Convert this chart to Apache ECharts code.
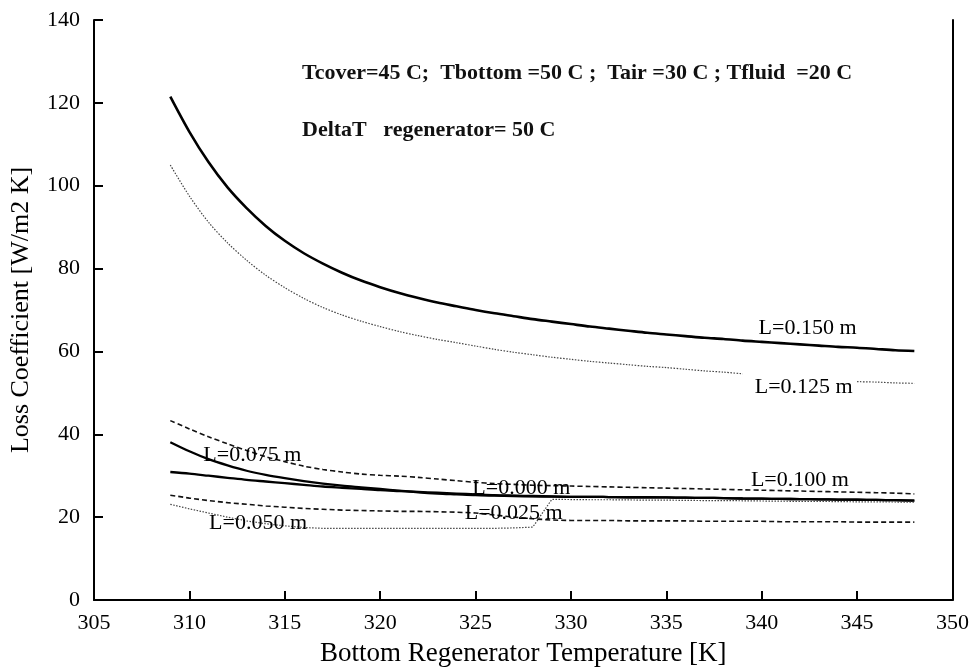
<!DOCTYPE html>
<html>
<head>
<meta charset="utf-8">
<script src="https://cdn.jsdelivr.net/npm/echarts@6/dist/echarts.min.js"></script>
<style>html,body{margin:0;padding:0;background:#fff;}#chart{width:972px;height:672px;}</style>
</head>
<body>
<div id="chart"></div>
<script>
// Bottom regenerator temperature [K]
var temps = [309,310,311,312,313,314,315,316,317,318,319,320,321,322,323,324,325,326,327,328,329,330,331,332,333,334,335,336,337,338,339,340,341,342,343,344,345,346,347,348];
// Loss coefficient [W/m2 K] for each L
var L150 = [121.5,113,105.7,99.6,94.6,90.3,86.7,83.7,81.2,79,77.1,75.5,74.1,72.9,71.8,70.9,70,69.2,68.5,67.8,67.2,66.6,66,65.5,65,64.5,64.1,63.7,63.3,63,62.6,62.3,62,61.7,61.4,61.1,60.9,60.6,60.3,60.1];
var L125 = [105,97.5,91.2,86.2,82,78.4,75.4,72.8,70.6,68.8,67.3,66,64.8,63.8,62.9,62.1,61.3,60.5,59.8,59.2,58.6,58.1,57.6,57.2,56.8,56.4,56.1,55.7,55.3,55,54.6,null,null,null,null,null,52.7,52.6,52.4,52.3];
var L100 = [43.3,41.3,39.4,37.7,36.1,34.6,33.4,32.3,31.5,30.9,30.4,30.1,29.9,29.6,29.2,28.8,28.4,28.1,27.9,27.7,27.6,27.5,27.4,27.3,27.2,27.1,27,26.9,26.8,26.7,26.6,26.5,26.4,26.3,26.2,26.1,26,25.9,25.8,25.6];
var L075 = [38.1,35.9,34,32.5,31.2,30.2,29.4,28.7,28.1,27.6,27.2,26.8,26.4,26,25.7,25.5,25.3,25.2,25.1,25,24.95,24.9,24.9,24.85,24.8,24.8,24.75,24.7,24.65,24.6,24.5,24.45,24.4,24.35,24.3,24.25,24.2,24.15,24.1,24];
var L000 = [30.9,30.5,30,29.5,29,28.6,28.2,27.8,27.4,27.1,26.8,26.5,26.3,26.1,25.9,25.7,25.5,25.3,25.2,25.1,25,24.9,24.9,24.85,24.8,24.8,24.75,24.7,24.65,24.6,24.5,24.45,24.4,24.35,24.3,24.25,24.2,24.15,24.1,24];
var L025 = [25.3,24.6,24,23.5,23.1,22.7,22.4,22.1,21.9,21.7,21.6,21.5,21.4,21.4,21.3,21.2,21,20.5,20,19.6,19.3,19.2,19.2,19.2,19.1,19.1,19.1,19.1,19,19,19,19,18.9,18.9,18.9,18.9,18.8,18.8,18.8,18.8];
var L050 = [23.1,22,21,20,19.1,18.4,17.9,17.5,17.3,17.3,17.3,17.3,17.3,17.3,17.3,17.3,17.3,17.3,17.4,17.6,24.3,24.25,24.2,24.2,24.15,24.1,24.1,24.05,24,24,23.95,23.9,23.85,23.8,23.8,23.75,23.7,23.7,23.65,23.6];
var xTicks = [305,310,315,320,325,330,335,340,345,350];
var yTicks = [0,20,40,60,80,100,120,140];
var seriesNames = ['L=0.150 m','L=0.125 m','L=0.100 m','L=0.075 m','L=0.000 m','L=0.025 m','L=0.050 m'];
// label anchor positions (data coordinates)
var labelX = [342.4,342.2,342.0,313.3,327.4,327.0,313.6];
var labelY = [65.7,51.3,29.0,35.0,27.1,20.9,18.5];
var noteLine1 = 'Tcover=45 C;  Tbottom =50 C ;  Tair =30 C ; Tfluid  =20 C';
var noteLine2 = 'DeltaT   regenerator= 50 C';

function pairs(vals){ return temps.map(function(t,i){ return [t, vals[i]]; }); }

var FONT = '"Liberation Serif", "Times New Roman", serif';
var styles = [
  {type:'solid', width:2.6, color:'#000'},
  {type:[1.5,1.5], width:1.2, color:'#444'},
  {type:[5,3], width:1.6, color:'#111'},
  {type:'solid', width:2.3, color:'#000'},
  {type:'solid', width:2.3, color:'#000'},
  {type:[5,3], width:1.6, color:'#111'},
  {type:[1.5,1.5], width:1.2, color:'#444'}
];
var smoothness = [0.3,0.3,0.3,0.3,0.3,0,0];
var dataSets = [L150,L125,L100,L075,L000,L025,L050];

var series = dataSets.map(function(d,i){
  return {
    name: seriesNames[i], type:'line', data: pairs(d), showSymbol:false, symbol:'none',
    connectNulls:false, smooth:smoothness[i], silent:true,
    lineStyle: styles[i]
  };
});

var chart = echarts.init(document.getElementById('chart'), null, {renderer:'canvas'});
var baseGraphic = [
  {type:'text', left:302, top:62, style:{text:noteLine1, font:'bold 22px ' + FONT, fill:'#111'}},
  {type:'text', left:302, top:119, style:{text:noteLine2, font:'bold 22px ' + FONT, fill:'#111'}}
];
chart.setOption({
  animation:false,
  backgroundColor:'#fff',
  grid:{left:94, right:19, top:20, bottom:68, containLabel:false},
  xAxis:{
    type:'value', min:xTicks[0], max:xTicks[xTicks.length-1], interval:5,
    name:'Bottom Regenerator Temperature [K]', nameLocation:'middle', nameGap:40,
    nameTextStyle:{fontFamily:FONT, fontSize:27, color:'#000'},
    axisLine:{show:true, lineStyle:{color:'#000', width:2}},
    axisTick:{show:true, inside:true, length:9, lineStyle:{color:'#000', width:2}},
    axisLabel:{fontFamily:FONT, fontSize:22, color:'#000', margin:12},
    splitLine:{show:false}
  },
  yAxis:[{
    type:'value', min:yTicks[0], max:yTicks[yTicks.length-1], interval:20,
    name:'Loss Coefficient [W/m2 K]', nameLocation:'middle', nameGap:60, nameRotate:90,
    nameTextStyle:{fontFamily:FONT, fontSize:26, color:'#000'},
    axisLine:{show:true, onZero:false, lineStyle:{color:'#000', width:2}},
    axisTick:{show:true, inside:true, length:9, lineStyle:{color:'#000', width:2}},
    axisLabel:{fontFamily:FONT, fontSize:22, color:'#000', margin:14},
    splitLine:{show:false}
  },{
    type:'value', position:'right', min:0, max:140, interval:20,
    axisLine:{show:true, lineStyle:{color:'#000', width:2}},
    axisTick:{show:false}, axisLabel:{show:false}, splitLine:{show:false}
  }],
  graphic: baseGraphic,
  series: series
});
// curve labels placed through the chart's own coordinate conversion
var labelGraphic = seriesNames.map(function(n,i){
  var p = chart.convertToPixel({gridIndex:0}, [labelX[i], labelY[i]]);
  return {type:'text', x:p[0], y:p[1], z:100,
          style:{text:n, font:'22px ' + FONT, fill:'#000', align:'center', verticalAlign:'middle'}};
});
chart.setOption({graphic: baseGraphic.concat(labelGraphic)});
</script>
</body>
</html>
